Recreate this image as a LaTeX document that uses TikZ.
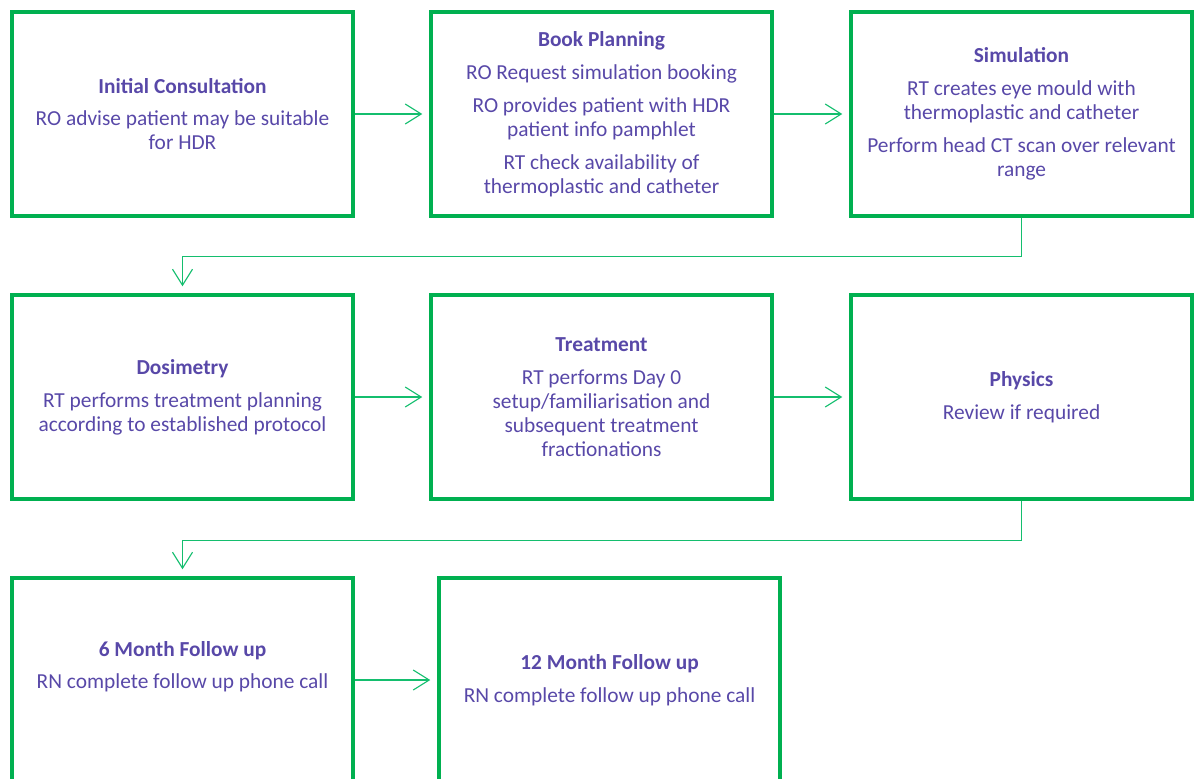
\documentclass[tikz,border=0pt]{standalone}
\usepackage{fontspec}
\setmainfont{Carlito}
\usetikzlibrary{arrows.meta}
\definecolor{boxgreen}{RGB}{0,176,80}
\definecolor{linkgreen}{RGB}{20,190,110}
\definecolor{txtpurple}{RGB}{88,72,168}
\newcommand{\hd}[1]{\textbf{#1}\\[6.4pt]}
\begin{document}
\begin{tikzpicture}[
    stage/.style={draw=boxgreen,line width=2.2pt,minimum width=8.525cm,minimum height=5.1cm,
        align=center,text=txtpurple,font=\fontsize{15.2}{17}\selectfont,inner sep=0pt},
    link/.style={draw=linkgreen,line width=0.8pt,-{Straight Barb[length=0.4cm,width=0.5cm,line width=0.8pt]},shorten >=0.18cm}
  ]
    \useasboundingbox (0,0) rectangle (29.975,-19.45);
    \clip (0,0) rectangle (29.975,-19.45);
    % first row
    \node[stage] (cons) at (4.5625,-2.85) {\hd{Initial Consultation}RO advise patient may be suitable\\for HDR};
    \node[stage] (book) at (15.0375,-2.85) {\hd{Book Planning}RO Request simulation booking\\[6.4pt]RO provides patient with HDR\\patient info pamphlet\\[6.4pt]RT check availability of\\thermoplastic and catheter};
    \node[stage] (sim) at (25.5375,-2.85) {\hd{Simulation}RT creates eye mould with\\thermoplastic and catheter\\[6.4pt]Perform head CT scan over relevant\\range};
    % second row
    \node[stage] (dos) at (4.5625,-9.925) {\hd{Dosimetry}RT performs treatment planning\\according to established protocol};
    \node[stage] (treat) at (15.0375,-9.925) {\hd{Treatment}RT performs Day 0\\setup/familiarisation and\\subsequent treatment\\fractionations};
    \node[stage] (phys) at (25.5375,-9.925) {\hd{Physics}Review if required};
    % third row
    \node[stage] (six) at (4.5625,-17.0) {\hd{6 Month Follow up}RN complete follow up phone call\\[4.4pt]};
    \node[stage] (twelve) at (15.2375,-17.0) {\hd{12 Month Follow up}RN complete follow up phone call};
    % connectors
    \draw[link] (cons) -- (book);
    \draw[link] (book) -- (sim);
    \draw[link] (sim.south) -- ++(0,-0.975) -| (dos.north);
    \draw[link] (dos) -- (treat);
    \draw[link] (treat) -- (phys);
    \draw[link] (phys.south) -- ++(0,-1.0) -| (six.north);
    \draw[link] (six) -- (twelve);
\end{tikzpicture}
\end{document}
